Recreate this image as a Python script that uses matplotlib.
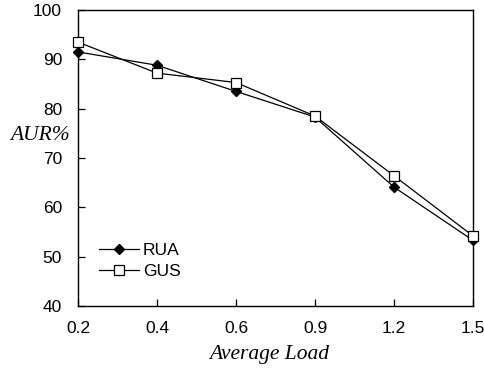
import matplotlib.pyplot as plt

loads = ['0.2', '0.4', '0.6', '0.9', '1.2', '1.5']
rua = [91.5, 88.8, 83.5, 78.3, 64.1, 53.3]
gus = [93.5, 87.2, 85.3, 78.5, 66.4, 54.2]

plt.rcParams['font.family'] = 'Liberation Sans'

fig = plt.figure(figsize=(4.85, 3.73), dpi=100)
ax = fig.add_axes([78 / 485, 1 - 306 / 373, 395 / 485, 296 / 373])

x = range(len(loads))
ax.plot(x, rua, color='black', lw=0.9, marker='D', ms=5.5,
        mfc='black', mec='black', label='RUA', clip_on=False, zorder=3)
ax.plot(x, gus, color='black', lw=0.9, marker='s', ms=7.5,
        mfc='white', mec='black', mew=0.9, label='GUS', clip_on=False, zorder=4)

ax.set_xlim(0, len(loads) - 1)
ax.set_ylim(40, 100)
ax.set_xticks(list(x))
ax.set_xticklabels(loads)
ax.set_yticks(range(40, 101, 10))
ax.tick_params(direction='in', length=5, width=0.9, labelsize=12.5, pad=11)
ax.tick_params(axis='y', pad=11.5)
for s in ax.spines.values():
    s.set_linewidth(1.0)

ax.legend(loc='lower left', bbox_to_anchor=(0.035, 0.068), frameon=False,
          fontsize=12.5, handlelength=2.3, handletextpad=0.25,
          labelspacing=0.35, borderaxespad=0)

fig.text(40 / 485, 1 - 135 / 373, 'AUR%', family='Liberation Serif',
         style='italic', fontsize=15.5, ha='center', va='center')
fig.text(269 / 485, 1 - 355 / 373, 'Average Load', family='Liberation Serif',
         style='italic', fontsize=15.5, ha='center', va='center')

fig.savefig('out.png', dpi=100)
